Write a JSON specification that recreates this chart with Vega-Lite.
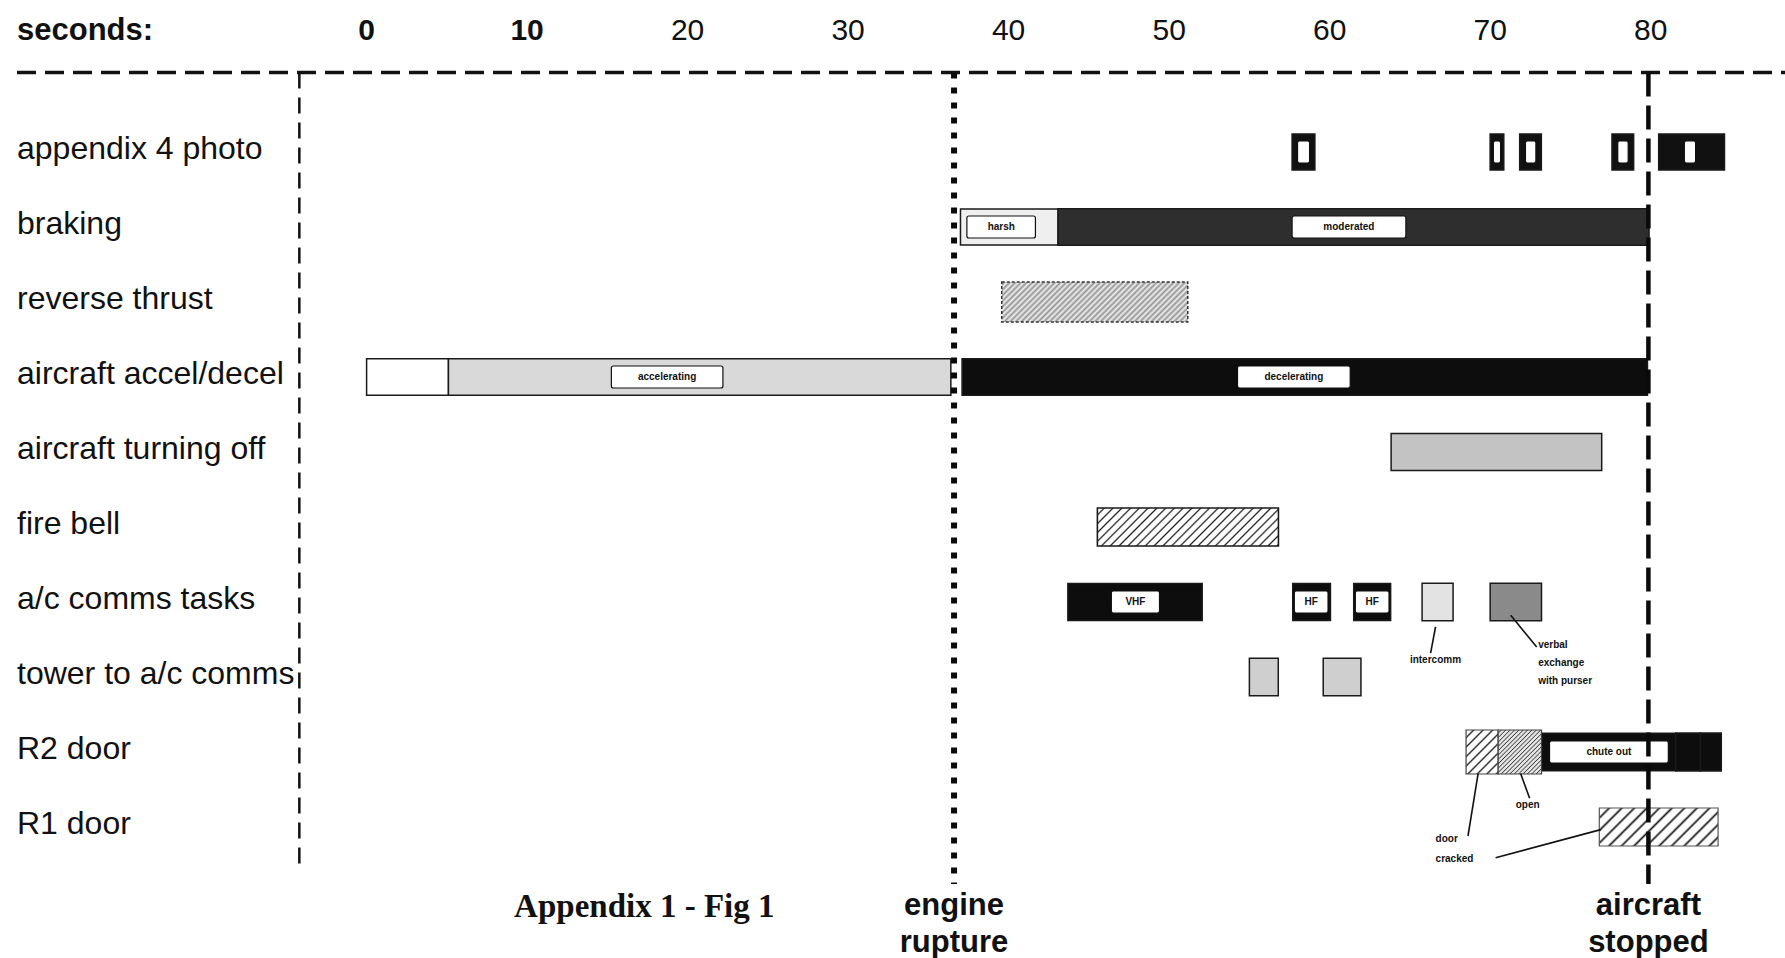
{
  "$schema": "https://vega.github.io/schema/vega-lite/v6.json",
  "width": 1785,
  "height": 958,
  "padding": 0,
  "autosize": {"type": "none"},
  "background": "white",
  "config": {"view": {"stroke": null}, "axis": {"disable": true}},
  "datasets": {
    "rows": [
      {"row": 1, "label": "appendix 4 photo"},
      {"row": 2, "label": "braking"},
      {"row": 3, "label": "reverse thrust"},
      {"row": 4, "label": "aircraft accel/decel"},
      {"row": 5, "label": "aircraft turning off"},
      {"row": 6, "label": "fire bell"},
      {"row": 7, "label": "a/c comms tasks"},
      {"row": 8, "label": "tower to a/c comms"},
      {"row": 9, "label": "R2 door"},
      {"row": 10, "label": "R1 door"}
    ],
    "bars": [
      {"row": 1, "start": 57.66, "end": 59.08, "segment": "photo"},
      {"row": 1, "start": 70.0, "end": 70.85, "segment": "photo"},
      {"row": 1, "start": 71.84, "end": 73.19, "segment": "photo"},
      {"row": 1, "start": 77.59, "end": 78.94, "segment": "photo"},
      {"row": 1, "start": 80.5, "end": 84.6, "segment": "photo"},
      {"row": 2, "start": 37.0, "end": 43.08, "segment": "harsh"},
      {"row": 2, "start": 43.08, "end": 79.9, "segment": "moderated"},
      {"row": 3, "start": 39.57, "end": 51.16, "segment": "reverse thrust"},
      {"row": 4, "start": 0, "end": 5.1, "segment": "idle"},
      {"row": 4, "start": 5.1, "end": 36.4, "segment": "accelerating"},
      {"row": 4, "start": 37.1, "end": 79.8, "segment": "decelerating"},
      {"row": 5, "start": 63.83, "end": 76.95, "segment": "turning off"},
      {"row": 6, "start": 45.53, "end": 56.81, "segment": "fire bell"},
      {"row": 7, "start": 43.69, "end": 52.06, "segment": "VHF"},
      {"row": 7, "start": 57.7, "end": 60.05, "segment": "HF"},
      {"row": 7, "start": 61.5, "end": 63.8, "segment": "HF"},
      {"row": 7, "start": 65.76, "end": 67.69, "segment": "intercomm"},
      {"row": 7, "start": 70.0, "end": 73.2, "segment": "verbal exchange"},
      {"row": 8, "start": 55.0, "end": 56.8, "segment": "tower call"},
      {"row": 8, "start": 59.6, "end": 61.95, "segment": "tower call"},
      {"row": 9, "start": 68.5, "end": 70.5, "segment": "door cracked"},
      {"row": 9, "start": 70.5, "end": 73.2, "segment": "door open"},
      {"row": 9, "start": 73.2, "end": 81.56, "segment": "chute out"},
      {"row": 9, "start": 81.56, "end": 83.1, "segment": "chute tail"},
      {"row": 9, "start": 83.1, "end": 84.4, "segment": "chute tip"},
      {"row": 10, "start": 76.8, "end": 84.2, "segment": "door cracked"}
    ],
    "boxes": [
      {"row": 1, "from": 58.0, "to": 58.75, "text": ""},
      {"row": 1, "from": 70.2, "to": 70.65, "text": ""},
      {"row": 1, "from": 72.2, "to": 72.85, "text": ""},
      {"row": 1, "from": 77.95, "to": 78.6, "text": ""},
      {"row": 1, "from": 82.1, "to": 82.8, "text": ""},
      {"row": 2, "from": 37.4, "to": 41.67, "text": "harsh", "at": 39.54},
      {"row": 2, "from": 57.66, "to": 64.75, "text": "moderated", "at": 61.2},
      {"row": 4, "from": 15.25, "to": 22.2, "text": "accelerating", "at": 18.72},
      {"row": 4, "from": 54.26, "to": 61.28, "text": "decelerating", "at": 57.77},
      {"row": 7, "from": 46.4, "to": 49.4, "text": "VHF", "at": 47.9},
      {"row": 7, "from": 57.8, "to": 59.9, "text": "HF", "at": 58.85},
      {"row": 7, "from": 61.6, "to": 63.7, "text": "HF", "at": 62.65},
      {"row": 9, "from": 73.7, "to": 81.1, "text": "chute out", "at": 77.4}
    ],
    "notes": [
      {"text": "intercomm", "t": 65.0, "pos": 7.77},
      {"text": "verbal", "t": 72.99, "pos": 7.573},
      {"text": "exchange", "t": 72.99, "pos": 7.814},
      {"text": "with purser", "t": 72.99, "pos": 8.056},
      {"text": "open", "t": 71.59, "pos": 9.7},
      {"text": "door", "t": 66.6, "pos": 10.163},
      {"text": "cracked", "t": 66.6, "pos": 10.427}
    ],
    "leaders": [
      {"t1": 66.6, "p1": 7.33, "t2": 66.29, "p2": 7.682},
      {"t1": 71.28, "p1": 7.177, "t2": 72.9, "p2": 7.6},
      {"t1": 71.9, "p1": 9.288, "t2": 72.46, "p2": 9.618},
      {"t1": 69.25, "p1": 9.288, "t2": 68.62, "p2": 10.12},
      {"t1": 70.34, "p1": 10.41, "t2": 76.89, "p2": 10.035}
    ],
    "events": [
      {"event": "engine rupture", "t": 36.6, "lines": ["engine", "rupture"]},
      {"event": "aircraft stopped", "t": 79.86, "lines": ["aircraft", "stopped"]}
    ],
    "ticks": [
      {"value": 0}, {"value": 10}, {"value": 20}, {"value": 30}, {"value": 40},
      {"value": 50}, {"value": 60}, {"value": 70}, {"value": 80}
    ]
  },
  "layer": [
    {
      "data": {"name": "bars"},
      "transform": [{"filter": "indexof(['reverse thrust','fire bell','door cracked','door open'], datum.segment) < 0"}],
      "mark": {"type": "bar", "orient": "horizontal", "stroke": "#1a1a1a", "strokeWidth": 1.5},
      "encoding": {
        "x": {"field": "start", "type": "quantitative", "scale": {"domain": [-22.84, 88.37], "nice": false, "zero": false}},
        "x2": {"field": "end"},
        "y": {"field": "row", "type": "quantitative", "scale": {"domain": [-0.96, 11.68], "nice": false, "zero": false, "reverse": true}},
        "fill": {"field": "segment", "type": "nominal", "legend": null,
          "scale": {"domain": ["photo", "harsh", "moderated", "idle", "accelerating", "decelerating", "turning off", "VHF", "HF", "intercomm", "verbal exchange", "tower call", "chute out", "chute tail", "chute tip"],
                    "range": ["#111111", "#efefef", "#2e2e2e", "#ffffff", "#d9d9d9", "#0d0d0d", "#c3c3c3", "#0d0d0d", "#0d0d0d", "#e3e3e3", "#8a8a8a", "#cfcfcf", "#0d0d0d", "#0d0d0d", "#0d0d0d"]}},
        "size": {"field": "segment", "type": "ordinal", "legend": null,
          "scale": {"domain": ["photo", "harsh", "moderated", "idle", "accelerating", "decelerating", "turning off", "VHF", "HF", "intercomm", "verbal exchange", "tower call", "chute out", "chute tail", "chute tip"],
                    "range": [36, 38, 38, 39, 39, 39, 40, 46, 46, 43, 43, 39, 44, 32, 18]}}
      }
    },
    {
      "data": {"name": "bars"},
      "transform": [{"filter": "datum.segment == 'reverse thrust'"}],
      "mark": {"type": "bar", "orient": "horizontal", "height": 40, "stroke": "#333333", "strokeWidth": 1.5, "strokeDash": [3, 2],
        "fill": {"gradient": "linear", "x1": 0, "y1": 0, "x2": 1.1614, "y2": 0.2498, "stops": [
          {"offset": 0, "color": "#f0f0f0"}, {"offset": 0.0125, "color": "#959595"}, {"offset": 0.025, "color": "#f0f0f0"}, {"offset": 0.0375, "color": "#959595"},
          {"offset": 0.05, "color": "#f0f0f0"}, {"offset": 0.0625, "color": "#959595"}, {"offset": 0.075, "color": "#f0f0f0"}, {"offset": 0.0875, "color": "#959595"},
          {"offset": 0.1, "color": "#f0f0f0"}, {"offset": 0.1125, "color": "#959595"}, {"offset": 0.125, "color": "#f0f0f0"}, {"offset": 0.1375, "color": "#959595"},
          {"offset": 0.15, "color": "#f0f0f0"}, {"offset": 0.1625, "color": "#959595"}, {"offset": 0.175, "color": "#f0f0f0"}, {"offset": 0.1875, "color": "#959595"},
          {"offset": 0.2, "color": "#f0f0f0"}, {"offset": 0.2125, "color": "#959595"}, {"offset": 0.225, "color": "#f0f0f0"}, {"offset": 0.2375, "color": "#959595"},
          {"offset": 0.25, "color": "#f0f0f0"}, {"offset": 0.2625, "color": "#959595"}, {"offset": 0.275, "color": "#f0f0f0"}, {"offset": 0.2875, "color": "#959595"},
          {"offset": 0.3, "color": "#f0f0f0"}, {"offset": 0.3125, "color": "#959595"}, {"offset": 0.325, "color": "#f0f0f0"}, {"offset": 0.3375, "color": "#959595"},
          {"offset": 0.35, "color": "#f0f0f0"}, {"offset": 0.3625, "color": "#959595"}, {"offset": 0.375, "color": "#f0f0f0"}, {"offset": 0.3875, "color": "#959595"},
          {"offset": 0.4, "color": "#f0f0f0"}, {"offset": 0.4125, "color": "#959595"}, {"offset": 0.425, "color": "#f0f0f0"}, {"offset": 0.4375, "color": "#959595"},
          {"offset": 0.45, "color": "#f0f0f0"}, {"offset": 0.4625, "color": "#959595"}, {"offset": 0.475, "color": "#f0f0f0"}, {"offset": 0.4875, "color": "#959595"},
          {"offset": 0.5, "color": "#f0f0f0"}, {"offset": 0.5125, "color": "#959595"}, {"offset": 0.525, "color": "#f0f0f0"}, {"offset": 0.5375, "color": "#959595"},
          {"offset": 0.55, "color": "#f0f0f0"}, {"offset": 0.5625, "color": "#959595"}, {"offset": 0.575, "color": "#f0f0f0"}, {"offset": 0.5875, "color": "#959595"},
          {"offset": 0.6, "color": "#f0f0f0"}, {"offset": 0.6125, "color": "#959595"}, {"offset": 0.625, "color": "#f0f0f0"}, {"offset": 0.6375, "color": "#959595"},
          {"offset": 0.65, "color": "#f0f0f0"}, {"offset": 0.6625, "color": "#959595"}, {"offset": 0.675, "color": "#f0f0f0"}, {"offset": 0.6875, "color": "#959595"},
          {"offset": 0.7, "color": "#f0f0f0"}, {"offset": 0.7125, "color": "#959595"}, {"offset": 0.725, "color": "#f0f0f0"}, {"offset": 0.7375, "color": "#959595"},
          {"offset": 0.75, "color": "#f0f0f0"}, {"offset": 0.7625, "color": "#959595"}, {"offset": 0.775, "color": "#f0f0f0"}, {"offset": 0.7875, "color": "#959595"},
          {"offset": 0.8, "color": "#f0f0f0"}, {"offset": 0.8125, "color": "#959595"}, {"offset": 0.825, "color": "#f0f0f0"}, {"offset": 0.8375, "color": "#959595"},
          {"offset": 0.85, "color": "#f0f0f0"}, {"offset": 0.8625, "color": "#959595"}, {"offset": 0.875, "color": "#f0f0f0"}, {"offset": 0.8875, "color": "#959595"},
          {"offset": 0.9, "color": "#f0f0f0"}, {"offset": 0.9125, "color": "#959595"}, {"offset": 0.925, "color": "#f0f0f0"}, {"offset": 0.9375, "color": "#959595"},
          {"offset": 0.95, "color": "#f0f0f0"}, {"offset": 0.9625, "color": "#959595"}, {"offset": 0.975, "color": "#f0f0f0"}, {"offset": 0.9875, "color": "#959595"},
          {"offset": 1, "color": "#f0f0f0"}]}},
      "encoding": {
        "x": {"field": "start", "type": "quantitative", "scale": {"domain": [-22.84, 88.37], "nice": false, "zero": false}},
        "x2": {"field": "end"},
        "y": {"field": "row", "type": "quantitative", "scale": {"domain": [-0.96, 11.68], "nice": false, "zero": false, "reverse": true}}
      }
    },
    {
      "data": {"name": "bars"},
      "transform": [{"filter": "datum.segment == 'fire bell'"}],
      "mark": {"type": "bar", "orient": "horizontal", "height": 38, "stroke": "#1a1a1a", "strokeWidth": 1.6,
        "fill": {"gradient": "linear", "x1": 0, "y1": 0, "x2": 1.159, "y2": 0.2433, "stops": [
          {"offset": 0, "color": "#ffffff"},
          {"offset": 0.024, "color": "#ffffff"}, {"offset": 0.032, "color": "#1e1e1e"}, {"offset": 0.04, "color": "#ffffff"},
          {"offset": 0.064, "color": "#ffffff"}, {"offset": 0.072, "color": "#1e1e1e"}, {"offset": 0.08, "color": "#ffffff"},
          {"offset": 0.104, "color": "#ffffff"}, {"offset": 0.112, "color": "#1e1e1e"}, {"offset": 0.12, "color": "#ffffff"},
          {"offset": 0.144, "color": "#ffffff"}, {"offset": 0.152, "color": "#1e1e1e"}, {"offset": 0.16, "color": "#ffffff"},
          {"offset": 0.184, "color": "#ffffff"}, {"offset": 0.192, "color": "#1e1e1e"}, {"offset": 0.2, "color": "#ffffff"},
          {"offset": 0.224, "color": "#ffffff"}, {"offset": 0.232, "color": "#1e1e1e"}, {"offset": 0.24, "color": "#ffffff"},
          {"offset": 0.264, "color": "#ffffff"}, {"offset": 0.272, "color": "#1e1e1e"}, {"offset": 0.28, "color": "#ffffff"},
          {"offset": 0.304, "color": "#ffffff"}, {"offset": 0.312, "color": "#1e1e1e"}, {"offset": 0.32, "color": "#ffffff"},
          {"offset": 0.344, "color": "#ffffff"}, {"offset": 0.352, "color": "#1e1e1e"}, {"offset": 0.36, "color": "#ffffff"},
          {"offset": 0.384, "color": "#ffffff"}, {"offset": 0.392, "color": "#1e1e1e"}, {"offset": 0.4, "color": "#ffffff"},
          {"offset": 0.424, "color": "#ffffff"}, {"offset": 0.432, "color": "#1e1e1e"}, {"offset": 0.44, "color": "#ffffff"},
          {"offset": 0.464, "color": "#ffffff"}, {"offset": 0.472, "color": "#1e1e1e"}, {"offset": 0.48, "color": "#ffffff"},
          {"offset": 0.504, "color": "#ffffff"}, {"offset": 0.512, "color": "#1e1e1e"}, {"offset": 0.52, "color": "#ffffff"},
          {"offset": 0.544, "color": "#ffffff"}, {"offset": 0.552, "color": "#1e1e1e"}, {"offset": 0.56, "color": "#ffffff"},
          {"offset": 0.584, "color": "#ffffff"}, {"offset": 0.592, "color": "#1e1e1e"}, {"offset": 0.6, "color": "#ffffff"},
          {"offset": 0.624, "color": "#ffffff"}, {"offset": 0.632, "color": "#1e1e1e"}, {"offset": 0.64, "color": "#ffffff"},
          {"offset": 0.664, "color": "#ffffff"}, {"offset": 0.672, "color": "#1e1e1e"}, {"offset": 0.68, "color": "#ffffff"},
          {"offset": 0.704, "color": "#ffffff"}, {"offset": 0.712, "color": "#1e1e1e"}, {"offset": 0.72, "color": "#ffffff"},
          {"offset": 0.744, "color": "#ffffff"}, {"offset": 0.752, "color": "#1e1e1e"}, {"offset": 0.76, "color": "#ffffff"},
          {"offset": 0.784, "color": "#ffffff"}, {"offset": 0.792, "color": "#1e1e1e"}, {"offset": 0.8, "color": "#ffffff"},
          {"offset": 0.824, "color": "#ffffff"}, {"offset": 0.832, "color": "#1e1e1e"}, {"offset": 0.84, "color": "#ffffff"},
          {"offset": 0.864, "color": "#ffffff"}, {"offset": 0.872, "color": "#1e1e1e"}, {"offset": 0.88, "color": "#ffffff"},
          {"offset": 0.904, "color": "#ffffff"}, {"offset": 0.912, "color": "#1e1e1e"}, {"offset": 0.92, "color": "#ffffff"},
          {"offset": 0.944, "color": "#ffffff"}, {"offset": 0.952, "color": "#1e1e1e"}, {"offset": 0.96, "color": "#ffffff"},
          {"offset": 0.984, "color": "#ffffff"}, {"offset": 0.992, "color": "#1e1e1e"}, {"offset": 1, "color": "#ffffff"}]}},
      "encoding": {
        "x": {"field": "start", "type": "quantitative", "scale": {"domain": [-22.84, 88.37], "nice": false, "zero": false}},
        "x2": {"field": "end"},
        "y": {"field": "row", "type": "quantitative", "scale": {"domain": [-0.96, 11.68], "nice": false, "zero": false, "reverse": true}}
      }
    },
    {
      "data": {"name": "bars"},
      "transform": [{"filter": "datum.segment == 'door cracked' && datum.row == 9"}],
      "mark": {"type": "bar", "orient": "horizontal", "height": 44, "stroke": "#444444", "strokeWidth": 1.2,
        "fill": {"gradient": "linear", "x1": 0, "y1": 0, "x2": 0.824, "y2": 1.129, "stops": [
          {"offset": 0, "color": "#ffffff"},
          {"offset": 0.075, "color": "#ffffff"}, {"offset": 0.1, "color": "#1e1e1e"}, {"offset": 0.125, "color": "#ffffff"},
          {"offset": 0.2, "color": "#ffffff"}, {"offset": 0.225, "color": "#1e1e1e"}, {"offset": 0.25, "color": "#ffffff"},
          {"offset": 0.325, "color": "#ffffff"}, {"offset": 0.35, "color": "#1e1e1e"}, {"offset": 0.375, "color": "#ffffff"},
          {"offset": 0.45, "color": "#ffffff"}, {"offset": 0.475, "color": "#1e1e1e"}, {"offset": 0.5, "color": "#ffffff"},
          {"offset": 0.575, "color": "#ffffff"}, {"offset": 0.6, "color": "#1e1e1e"}, {"offset": 0.625, "color": "#ffffff"},
          {"offset": 0.7, "color": "#ffffff"}, {"offset": 0.725, "color": "#1e1e1e"}, {"offset": 0.75, "color": "#ffffff"},
          {"offset": 0.825, "color": "#ffffff"}, {"offset": 0.85, "color": "#1e1e1e"}, {"offset": 0.875, "color": "#ffffff"},
          {"offset": 0.95, "color": "#ffffff"}, {"offset": 0.975, "color": "#1e1e1e"}, {"offset": 1, "color": "#ffffff"}]}},
      "encoding": {
        "x": {"field": "start", "type": "quantitative", "scale": {"domain": [-22.84, 88.37], "nice": false, "zero": false}},
        "x2": {"field": "end"},
        "y": {"field": "row", "type": "quantitative", "scale": {"domain": [-0.96, 11.68], "nice": false, "zero": false, "reverse": true}}
      }
    },
    {
      "data": {"name": "bars"},
      "transform": [{"filter": "datum.segment == 'door open'"}],
      "mark": {"type": "bar", "orient": "horizontal", "height": 44, "stroke": "#444444", "strokeWidth": 1.2,
        "fill": {"gradient": "linear", "x1": 0, "y1": 0, "x2": 0.992, "y2": 1.008, "stops": [
          {"offset": 0, "color": "#e4e4e4"},
          {"offset": 0.025, "color": "#e4e4e4"}, {"offset": 0.0375, "color": "#3a3a3a"}, {"offset": 0.05, "color": "#e4e4e4"},
          {"offset": 0.075, "color": "#e4e4e4"}, {"offset": 0.0875, "color": "#3a3a3a"}, {"offset": 0.1, "color": "#e4e4e4"},
          {"offset": 0.125, "color": "#e4e4e4"}, {"offset": 0.1375, "color": "#3a3a3a"}, {"offset": 0.15, "color": "#e4e4e4"},
          {"offset": 0.175, "color": "#e4e4e4"}, {"offset": 0.1875, "color": "#3a3a3a"}, {"offset": 0.2, "color": "#e4e4e4"},
          {"offset": 0.225, "color": "#e4e4e4"}, {"offset": 0.2375, "color": "#3a3a3a"}, {"offset": 0.25, "color": "#e4e4e4"},
          {"offset": 0.275, "color": "#e4e4e4"}, {"offset": 0.2875, "color": "#3a3a3a"}, {"offset": 0.3, "color": "#e4e4e4"},
          {"offset": 0.325, "color": "#e4e4e4"}, {"offset": 0.3375, "color": "#3a3a3a"}, {"offset": 0.35, "color": "#e4e4e4"},
          {"offset": 0.375, "color": "#e4e4e4"}, {"offset": 0.3875, "color": "#3a3a3a"}, {"offset": 0.4, "color": "#e4e4e4"},
          {"offset": 0.425, "color": "#e4e4e4"}, {"offset": 0.4375, "color": "#3a3a3a"}, {"offset": 0.45, "color": "#e4e4e4"},
          {"offset": 0.475, "color": "#e4e4e4"}, {"offset": 0.4875, "color": "#3a3a3a"}, {"offset": 0.5, "color": "#e4e4e4"},
          {"offset": 0.525, "color": "#e4e4e4"}, {"offset": 0.5375, "color": "#3a3a3a"}, {"offset": 0.55, "color": "#e4e4e4"},
          {"offset": 0.575, "color": "#e4e4e4"}, {"offset": 0.5875, "color": "#3a3a3a"}, {"offset": 0.6, "color": "#e4e4e4"},
          {"offset": 0.625, "color": "#e4e4e4"}, {"offset": 0.6375, "color": "#3a3a3a"}, {"offset": 0.65, "color": "#e4e4e4"},
          {"offset": 0.675, "color": "#e4e4e4"}, {"offset": 0.6875, "color": "#3a3a3a"}, {"offset": 0.7, "color": "#e4e4e4"},
          {"offset": 0.725, "color": "#e4e4e4"}, {"offset": 0.7375, "color": "#3a3a3a"}, {"offset": 0.75, "color": "#e4e4e4"},
          {"offset": 0.775, "color": "#e4e4e4"}, {"offset": 0.7875, "color": "#3a3a3a"}, {"offset": 0.8, "color": "#e4e4e4"},
          {"offset": 0.825, "color": "#e4e4e4"}, {"offset": 0.8375, "color": "#3a3a3a"}, {"offset": 0.85, "color": "#e4e4e4"},
          {"offset": 0.875, "color": "#e4e4e4"}, {"offset": 0.8875, "color": "#3a3a3a"}, {"offset": 0.9, "color": "#e4e4e4"},
          {"offset": 0.925, "color": "#e4e4e4"}, {"offset": 0.9375, "color": "#3a3a3a"}, {"offset": 0.95, "color": "#e4e4e4"},
          {"offset": 0.975, "color": "#e4e4e4"}, {"offset": 0.9875, "color": "#3a3a3a"}, {"offset": 1, "color": "#e4e4e4"}]}},
      "encoding": {
        "x": {"field": "start", "type": "quantitative", "scale": {"domain": [-22.84, 88.37], "nice": false, "zero": false}},
        "x2": {"field": "end"},
        "y": {"field": "row", "type": "quantitative", "scale": {"domain": [-0.96, 11.68], "nice": false, "zero": false, "reverse": true}}
      }
    },
    {
      "data": {"name": "bars"},
      "transform": [{"filter": "datum.segment == 'door cracked' && datum.row == 10"}],
      "mark": {"type": "bar", "orient": "horizontal", "height": 38, "stroke": "#555555", "strokeWidth": 1.2,
        "fill": {"gradient": "linear", "x1": 0, "y1": 0, "x2": 1.197, "y2": 0.383, "stops": [
          {"offset": 0, "color": "#ffffff"},
          {"offset": 0.048, "color": "#ffffff"}, {"offset": 0.064, "color": "#1e1e1e"}, {"offset": 0.08, "color": "#ffffff"},
          {"offset": 0.128, "color": "#ffffff"}, {"offset": 0.144, "color": "#1e1e1e"}, {"offset": 0.16, "color": "#ffffff"},
          {"offset": 0.208, "color": "#ffffff"}, {"offset": 0.224, "color": "#1e1e1e"}, {"offset": 0.24, "color": "#ffffff"},
          {"offset": 0.288, "color": "#ffffff"}, {"offset": 0.304, "color": "#1e1e1e"}, {"offset": 0.32, "color": "#ffffff"},
          {"offset": 0.368, "color": "#ffffff"}, {"offset": 0.384, "color": "#1e1e1e"}, {"offset": 0.4, "color": "#ffffff"},
          {"offset": 0.448, "color": "#ffffff"}, {"offset": 0.464, "color": "#1e1e1e"}, {"offset": 0.48, "color": "#ffffff"},
          {"offset": 0.528, "color": "#ffffff"}, {"offset": 0.544, "color": "#1e1e1e"}, {"offset": 0.56, "color": "#ffffff"},
          {"offset": 0.608, "color": "#ffffff"}, {"offset": 0.624, "color": "#1e1e1e"}, {"offset": 0.64, "color": "#ffffff"},
          {"offset": 0.688, "color": "#ffffff"}, {"offset": 0.704, "color": "#1e1e1e"}, {"offset": 0.72, "color": "#ffffff"},
          {"offset": 0.768, "color": "#ffffff"}, {"offset": 0.784, "color": "#1e1e1e"}, {"offset": 0.8, "color": "#ffffff"},
          {"offset": 0.848, "color": "#ffffff"}, {"offset": 0.864, "color": "#1e1e1e"}, {"offset": 0.88, "color": "#ffffff"},
          {"offset": 0.928, "color": "#ffffff"}, {"offset": 0.944, "color": "#1e1e1e"}, {"offset": 0.96, "color": "#ffffff"},
          {"offset": 1, "color": "#ffffff"}]}},
      "encoding": {
        "x": {"field": "start", "type": "quantitative", "scale": {"domain": [-22.84, 88.37], "nice": false, "zero": false}},
        "x2": {"field": "end"},
        "y": {"field": "row", "type": "quantitative", "scale": {"domain": [-0.96, 11.68], "nice": false, "zero": false, "reverse": true}}
      }
    },
    {
      "data": {"name": "boxes"},
      "mark": {"type": "bar", "orient": "horizontal", "height": 22, "fill": "#ffffff", "stroke": "#111111", "strokeWidth": 1.2, "cornerRadius": 2},
      "encoding": {
        "x": {"field": "from", "type": "quantitative", "scale": {"domain": [-22.84, 88.37], "nice": false, "zero": false}},
        "x2": {"field": "to"},
        "y": {"field": "row", "type": "quantitative", "scale": {"domain": [-0.96, 11.68], "nice": false, "zero": false, "reverse": true}}
      }
    },
    {
      "data": {"name": "boxes"},
      "transform": [{"filter": "datum.text != ''"}],
      "mark": {"type": "text", "font": "Liberation Sans", "fontSize": 10, "fontWeight": "bold", "color": "#111111", "align": "center", "baseline": "middle"},
      "encoding": {
        "x": {"field": "at", "type": "quantitative", "scale": {"domain": [-22.84, 88.37], "nice": false, "zero": false}},
        "y": {"field": "row", "type": "quantitative", "scale": {"domain": [-0.96, 11.68], "nice": false, "zero": false, "reverse": true}},
        "text": {"field": "text"}
      }
    },
    {
      "data": {"name": "notes"},
      "mark": {"type": "text", "font": "Liberation Sans", "fontSize": 10, "fontWeight": "bold", "color": "#111111", "align": "left", "baseline": "middle"},
      "encoding": {
        "x": {"field": "t", "type": "quantitative", "scale": {"domain": [-22.84, 88.37], "nice": false, "zero": false}},
        "y": {"field": "pos", "type": "quantitative", "scale": {"domain": [-0.96, 11.68], "nice": false, "zero": false, "reverse": true}},
        "text": {"field": "text"}
      }
    },
    {
      "data": {"name": "leaders"},
      "mark": {"type": "rule", "color": "#111111", "strokeWidth": 1.6},
      "encoding": {
        "x": {"field": "t1", "type": "quantitative", "scale": {"domain": [-22.84, 88.37], "nice": false, "zero": false}},
        "x2": {"field": "t2"},
        "y": {"field": "p1", "type": "quantitative", "scale": {"domain": [-0.96, 11.68], "nice": false, "zero": false, "reverse": true}},
        "y2": {"field": "p2"}
      }
    },
    {
      "data": {"name": "rows"},
      "mark": {"type": "text", "font": "Liberation Sans", "fontSize": 32, "color": "#111111", "align": "left", "baseline": "middle", "dy": -3},
      "encoding": {
        "x": {"datum": -21.78, "type": "quantitative", "scale": {"domain": [-22.84, 88.37], "nice": false, "zero": false}},
        "y": {"field": "row", "type": "quantitative", "scale": {"domain": [-0.96, 11.68], "nice": false, "zero": false, "reverse": true}},
        "text": {"field": "label"}
      }
    },
    {
      "data": {"values": [{}]},
      "mark": {"type": "text", "text": "seconds:", "font": "Liberation Sans", "fontSize": 31, "fontWeight": "bold", "color": "#111111", "align": "left", "baseline": "middle"},
      "encoding": {
        "x": {"datum": -21.78, "type": "quantitative", "scale": {"domain": [-22.84, 88.37], "nice": false, "zero": false}},
        "y": {"datum": -0.62, "type": "quantitative", "scale": {"domain": [-0.96, 11.68], "nice": false, "zero": false, "reverse": true}}
      }
    },
    {
      "data": {"name": "ticks"},
      "transform": [{"filter": "datum.value <= 10"}],
      "mark": {"type": "text", "font": "Liberation Sans", "fontSize": 30, "fontWeight": "bold", "color": "#111111", "align": "center", "baseline": "middle"},
      "encoding": {
        "x": {"field": "value", "type": "quantitative", "scale": {"domain": [-22.84, 88.37], "nice": false, "zero": false}},
        "y": {"datum": -0.62, "type": "quantitative", "scale": {"domain": [-0.96, 11.68], "nice": false, "zero": false, "reverse": true}},
        "text": {"field": "value", "type": "quantitative"}
      }
    },
    {
      "data": {"name": "ticks"},
      "transform": [{"filter": "datum.value > 10"}],
      "mark": {"type": "text", "font": "Liberation Sans", "fontSize": 30, "color": "#111111", "align": "center", "baseline": "middle"},
      "encoding": {
        "x": {"field": "value", "type": "quantitative", "scale": {"domain": [-22.84, 88.37], "nice": false, "zero": false}},
        "y": {"datum": -0.62, "type": "quantitative", "scale": {"domain": [-0.96, 11.68], "nice": false, "zero": false, "reverse": true}},
        "text": {"field": "value", "type": "quantitative"}
      }
    },
    {
      "data": {"values": [{}]},
      "mark": {"type": "rule", "color": "#111111", "strokeWidth": 3.5, "strokeDash": [19, 9]},
      "encoding": {
        "x": {"datum": -21.78, "type": "quantitative", "scale": {"domain": [-22.84, 88.37], "nice": false, "zero": false}},
        "x2": {"datum": 88.37},
        "y": {"datum": -0.06, "type": "quantitative", "scale": {"domain": [-0.96, 11.68], "nice": false, "zero": false, "reverse": true}}
      }
    },
    {
      "data": {"values": [{}]},
      "mark": {"type": "rule", "color": "#111111", "strokeWidth": 2.5, "strokeDash": [16, 9]},
      "encoding": {
        "x": {"datum": -4.19, "type": "quantitative", "scale": {"domain": [-22.84, 88.37], "nice": false, "zero": false}},
        "y": {"datum": -0.06, "type": "quantitative", "scale": {"domain": [-0.96, 11.68], "nice": false, "zero": false, "reverse": true}},
        "y2": {"datum": 10.53}
      }
    },
    {
      "data": {"name": "events"},
      "transform": [{"filter": "datum.event == 'engine rupture'"}],
      "mark": {"type": "rule", "color": "#0a0a0a", "strokeWidth": 6, "strokeDash": [6, 9]},
      "encoding": {
        "x": {"field": "t", "type": "quantitative", "scale": {"domain": [-22.84, 88.37], "nice": false, "zero": false}},
        "y": {"datum": -0.06, "type": "quantitative", "scale": {"domain": [-0.96, 11.68], "nice": false, "zero": false, "reverse": true}},
        "y2": {"datum": 10.76}
      }
    },
    {
      "data": {"name": "events"},
      "transform": [{"filter": "datum.event == 'aircraft stopped'"}],
      "mark": {"type": "rule", "color": "#0a0a0a", "strokeWidth": 4.5, "strokeDash": [24, 9]},
      "encoding": {
        "x": {"field": "t", "type": "quantitative", "scale": {"domain": [-22.84, 88.37], "nice": false, "zero": false}},
        "y": {"datum": -0.06, "type": "quantitative", "scale": {"domain": [-0.96, 11.68], "nice": false, "zero": false, "reverse": true}},
        "y2": {"datum": 10.76}
      }
    },
    {
      "data": {"name": "events"},
      "mark": {"type": "text", "font": "Liberation Sans", "fontSize": 31, "fontWeight": "bold", "color": "#111111", "align": "center", "baseline": "top", "lineHeight": 37},
      "encoding": {
        "x": {"field": "t", "type": "quantitative", "scale": {"domain": [-22.84, 88.37], "nice": false, "zero": false}},
        "y": {"datum": 10.85, "type": "quantitative", "scale": {"domain": [-0.96, 11.68], "nice": false, "zero": false, "reverse": true}},
        "text": {"field": "lines"}
      }
    },
    {
      "data": {"values": [{}]},
      "mark": {"type": "text", "text": "Appendix 1 - Fig 1", "font": "Liberation Serif", "fontSize": 33, "fontWeight": "bold", "color": "#111111", "align": "center", "baseline": "alphabetic"},
      "encoding": {
        "x": {"datum": 17.3, "type": "quantitative", "scale": {"domain": [-22.84, 88.37], "nice": false, "zero": false}},
        "y": {"datum": 11.2, "type": "quantitative", "scale": {"domain": [-0.96, 11.68], "nice": false, "zero": false, "reverse": true}}
      }
    }
  ]
}
